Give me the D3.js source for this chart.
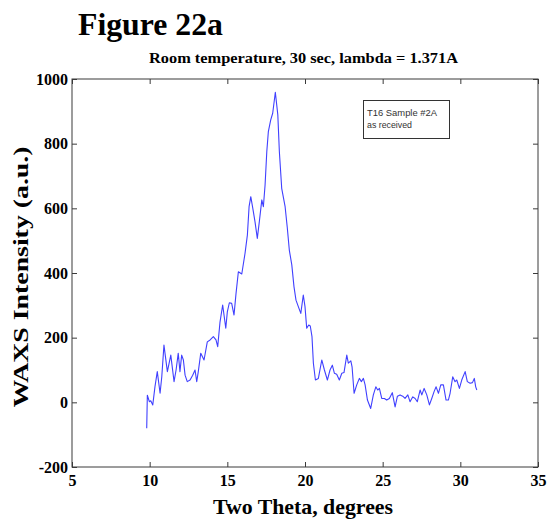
<!DOCTYPE html>
<html>
<head>
<meta charset="utf-8">
<script src="https://cdn.jsdelivr.net/npm/d3@7"></script>
<style>
  html, body { margin: 0; padding: 0; background: #fff; }
  svg { display: block; }
</style>
</head>
<body>
<svg id="chart" width="548" height="519"></svg>
<script>
// ---- data ----
const twoTheta = [9.81,9.85,9.98,10.07,10.20,10.34,10.49,10.67,10.78,10.92,11.14,11.36,11.57,11.70,11.84,11.95,12.06,12.17,12.28,12.42,12.60,12.77,12.92,13.03,13.13,13.29,13.50,13.71,13.89,14.10,14.27,14.38,14.53,14.70,14.90,15.00,15.13,15.28,15.43,15.56,15.71,15.93,16.14,16.29,16.40,16.51,16.64,16.78,16.93,17.06,17.22,17.32,17.43,17.54,17.64,17.79,17.92,18.09,18.25,18.35,18.50,18.72,18.86,18.99,19.15,19.29,19.42,19.57,19.73,19.89,20.00,20.11,20.24,20.34,20.45,20.54,20.67,20.86,21.08,21.25,21.44,21.61,21.76,21.89,22.04,22.21,22.37,22.51,22.69,22.79,22.95,23.03,23.16,23.33,23.50,23.63,23.76,23.87,24.02,24.23,24.40,24.56,24.68,24.79,24.94,25.11,25.26,25.43,25.62,25.80,25.95,26.12,26.29,26.44,26.62,26.76,26.94,27.09,27.23,27.41,27.52,27.67,27.84,28.01,28.16,28.31,28.44,28.59,28.74,28.91,29.08,29.23,29.34,29.51,29.66,29.77,29.94,30.09,30.31,30.45,30.63,30.78,30.90,30.99,31.06];
const intensity = [-80,22,2,5,-8,48,95,28,79,177,95,146,64,100,152,95,146,131,84,64,69,84,100,64,95,152,131,187,193,203,193,172,249,301,229,280,308,306,270,337,404,397,461,517,605,636,600,559,507,559,626,605,672,775,837,873,894,959,889,775,662,605,540,471,425,358,316,296,275,332,296,229,239,236,203,121,69,74,131,100,69,100,115,90,87,69,90,92,146,121,128,110,28,54,74,64,74,54,7,-19,23,48,38,43,12,12,7,12,30,-14,19,23,19,12,23,2,17,12,2,38,23,43,23,-8,12,33,48,28,54,54,7,7,28,79,64,69,43,69,95,64,59,61,74,48,38];
const xTickValues = [5,10,15,20,25,30,35];
const yTickValues = [-200,0,200,400,600,800,1000];
const figureTitle = "Figure 22a";
const plotTitle = "Room temperature, 30 sec, lambda = 1.371A";
const xLabel = "Two Theta, degrees";
const yLabel = "WAXS Intensity (a.u.)";
const legendLines = ["T16 Sample #2A", "as received"];

// ---- layout ----
const svg = d3.select("#chart");
const L = 72, R = 538, T = 79, B = 467;
const x = d3.scaleLinear().domain([5, 35]).range([L, R]);
const y = d3.scaleLinear().domain([-200, 1000]).range([B, T]);
const serif = "'Liberation Serif', 'Times New Roman', serif";
const sans = "'Liberation Sans', Arial, sans-serif";
const axisColor = "#3a3a3a";
const plainFormat = d => String(d);

// figure title
svg.append("text").attr("x", 78).attr("y", 35)
  .attr("font-family", serif).attr("font-weight", "bold").attr("font-size", 31)
  .attr("textLength", 145).attr("lengthAdjust", "spacingAndGlyphs")
  .text(figureTitle);

// plot title
svg.append("text").attr("x", 303.5).attr("y", 63).attr("text-anchor", "middle")
  .attr("font-family", serif).attr("font-weight", "bold").attr("font-size", 15.5)
  .attr("textLength", 309).attr("lengthAdjust", "spacingAndGlyphs")
  .text(plotTitle);

// axes
function styleAxis(g, showLabels) {
  g.select(".domain").remove();
  g.selectAll(".tick line").attr("stroke", axisColor).attr("stroke-width", 1);
  g.selectAll(".tick text")
    .attr("font-family", serif).attr("font-weight", "bold").attr("font-size", 16)
    .attr("fill", "#000");
  if (!showLabels) g.selectAll(".tick text").remove();
}
svg.append("g").attr("transform", `translate(0,${B})`)
  .call(d3.axisBottom(x).tickValues(xTickValues).tickSizeInner(-5).tickSizeOuter(0).tickPadding(8).tickFormat(plainFormat))
  .call(g => styleAxis(g, true));
svg.append("g").attr("transform", `translate(0,${T})`)
  .call(d3.axisTop(x).tickValues(xTickValues).tickSizeInner(-5).tickSizeOuter(0))
  .call(g => styleAxis(g, false));
svg.append("g").attr("transform", `translate(${L},0)`)
  .call(d3.axisLeft(y).tickValues(yTickValues).tickSizeInner(-5).tickSizeOuter(0).tickPadding(4).tickFormat(plainFormat))
  .call(g => styleAxis(g, true));
svg.append("g").attr("transform", `translate(${R},0)`)
  .call(d3.axisRight(y).tickValues(yTickValues).tickSizeInner(-5).tickSizeOuter(0))
  .call(g => styleAxis(g, false));

// box
svg.append("rect").attr("x", L).attr("y", T).attr("width", R - L).attr("height", B - T)
  .attr("fill", "none").attr("stroke", axisColor).attr("stroke-width", 1);

// data line
const data = twoTheta.map((t, i) => [t, intensity[i]]);
svg.append("path").datum(data)
  .attr("fill", "none").attr("stroke", "#4040ff").attr("stroke-width", 1.1)
  .attr("stroke-linejoin", "round")
  .attr("d", d3.line().x(d => x(d[0])).y(d => y(d[1])));

// legend box
svg.append("rect").attr("x", 363.5).attr("y", 100.5).attr("width", 86).attr("height", 38)
  .attr("fill", "#fff").attr("stroke", "#333").attr("stroke-width", 1);
svg.append("text").attr("x", 367).attr("y", 116)
  .attr("font-family", sans).attr("font-size", 9.5).attr("fill", "#333")
  .attr("textLength", 70).attr("lengthAdjust", "spacingAndGlyphs")
  .text(legendLines[0]);
svg.append("text").attr("x", 367).attr("y", 128)
  .attr("font-family", sans).attr("font-size", 9).attr("fill", "#333")
  .attr("textLength", 45).attr("lengthAdjust", "spacingAndGlyphs")
  .text(legendLines[1]);

// axis labels
svg.append("text").attr("x", 303).attr("y", 514).attr("text-anchor", "middle")
  .attr("font-family", serif).attr("font-weight", "bold").attr("font-size", 21)
  .attr("textLength", 180).attr("lengthAdjust", "spacingAndGlyphs")
  .text(xLabel);
svg.append("text").attr("transform", "translate(28,277) rotate(-90)").attr("text-anchor", "middle")
  .attr("font-family", serif).attr("font-weight", "bold").attr("font-size", 22)
  .attr("textLength", 261).attr("lengthAdjust", "spacingAndGlyphs")
  .text(yLabel);
</script>
</body>
</html>
